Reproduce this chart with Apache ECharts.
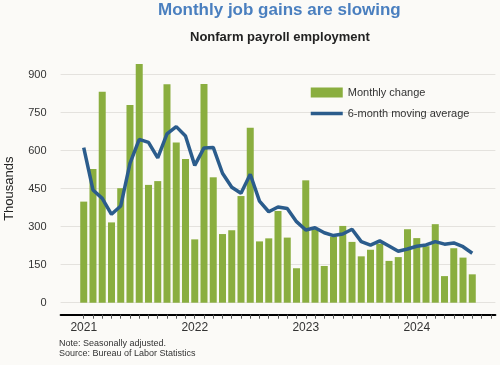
<!DOCTYPE html>
<html>
<head>
<meta charset="utf-8">
<script src="https://cdn.jsdelivr.net/npm/echarts@6/dist/echarts.min.js"></script>
<style>
html,body{margin:0;padding:0;background:#fbfaf7;}
#chart{width:500px;height:365px;}
</style>
</head>
<body>
<div id="chart"></div>
<script>
var months = ['2021-01','2021-02','2021-03','2021-04','2021-05','2021-06','2021-07','2021-08','2021-09','2021-10','2021-11','2021-12',
'2022-01','2022-02','2022-03','2022-04','2022-05','2022-06','2022-07','2022-08','2022-09','2022-10','2022-11','2022-12',
'2023-01','2023-02','2023-03','2023-04','2023-05','2023-06','2023-07','2023-08','2023-09','2023-10','2023-11','2023-12',
'2024-01','2024-02','2024-03','2024-04','2024-05','2024-06','2024-07'];
var monthlyChange = [399, 528, 833, 317, 452, 780, 942, 465, 480, 862, 632, 567,
  250, 863, 495, 271, 286, 421, 691, 242, 254, 362, 257, 136,
  483, 290, 145, 261, 303, 240, 183, 209, 233, 165, 180, 290,
  255, 223, 310, 105, 215, 178, 112];
var movingAverage = [612, 445, 412, 349, 382, 550, 645, 633, 572, 666, 695, 658,
  542, 611, 613, 511, 456, 432, 507, 401, 359, 378, 372, 320,
  287, 296, 276, 265, 271, 290, 241, 227, 244, 224, 203, 212,
  223, 228, 241, 231, 236, 221, 195];
var yTicks = [0, 150, 300, 450, 600, 750, 900];
var yearLabels = ['2021', '2022', '2023', '2024'];
var tickCount = 45; // Jan 2021 .. Sep 2024

var FONT = '"Liberation Sans", Arial, sans-serif';
var barData = months.map(function (m, i) { return [i, monthlyChange[i]]; });
var lineData = months.map(function (m, i) { return [i, movingAverage[i]]; });
var tickVals = [];
for (var i = 0; i < tickCount; i++) tickVals.push(i);
var labelVals = yearLabels.map(function (y, k) { return k * 12; });

var chart = echarts.init(document.getElementById('chart'), null, {renderer: 'canvas'});
chart.setOption({
  backgroundColor: '#fbfaf7',
  animation: false,
  textStyle: {fontFamily: FONT},
  title: [
    {text: 'Monthly job gains are slowing', left: 158, top: 2, padding: 0,
     textStyle: {color: '#4a7fbf', fontSize: 17, fontWeight: 'bold', fontFamily: FONT}},
    {text: 'Nonfarm payroll employment', left: 190, top: 31, padding: 0,
     textStyle: {color: '#222', fontSize: 13, fontWeight: 'bold', fontFamily: FONT}},
    {text: 'Note: Seasonally adjusted.\nSource: Bureau of Labor Statistics', left: 59, top: 339, padding: 0,
     textStyle: {color: '#333', fontSize: 9, fontWeight: 'normal', lineHeight: 10, fontFamily: FONT}}
  ],
  legend: {
    orient: 'vertical', left: 309, top: 87, padding: 0, itemGap: 10, itemWidth: 32, itemHeight: 10,
    textStyle: {color: '#333', fontSize: 11, fontFamily: FONT},
    lineStyle: {width: 3.5},
    data: [
      {name: 'Monthly change', icon: 'rect'},
      {name: '6-month moving average', itemStyle: {color: 'rgba(0,0,0,0)', borderWidth: 0, opacity: 0}}
    ]
  },
  grid: {left: 60.6, right: 4.6, top: 74.7, bottom: 62.3, containLabel: false, outerBoundsMode: 'none'},
  xAxis: {
    type: 'value', min: -2.5, max: 44.5, offset: 12,
    axisLine: {show: true, onZero: false, lineStyle: {color: '#000', width: 2}},
    axisTick: {show: true, length: 4, customValues: tickVals, lineStyle: {color: '#555', width: 1}},
    axisLabel: {show: true, customValues: labelVals, margin: 7, fontSize: 12, color: '#333',
      formatter: function (v) { return yearLabels[Math.round(v / 12)]; }},
    splitLine: {show: false}
  },
  yAxis: {
    type: 'value', min: 0, max: 900, interval: 150,
    name: 'Thousands', nameLocation: 'middle', nameGap: 45, nameRotate: 90,
    nameTextStyle: {fontSize: 13, color: '#222', fontFamily: FONT},
    axisLine: {show: false, onZero: false}, axisTick: {show: false},
    axisLabel: {fontSize: 11, color: '#333', margin: 14,
      formatter: function (v) { return yTicks.indexOf(v) >= 0 ? String(v) : ''; }},
    splitLine: {show: true, lineStyle: {color: '#e4e2de', width: 1}}
  },
  series: [
    {name: 'Monthly change', type: 'bar', data: barData, barWidth: 7, clip: false,
     itemStyle: {color: '#8aae3f'}},
    {name: '6-month moving average', type: 'line', data: lineData, symbol: 'none', clip: false,
     lineStyle: {color: '#2b5c8c', width: 3.5}, itemStyle: {color: '#2b5c8c'}, z: 5}
  ]
});
</script>
</body>
</html>
